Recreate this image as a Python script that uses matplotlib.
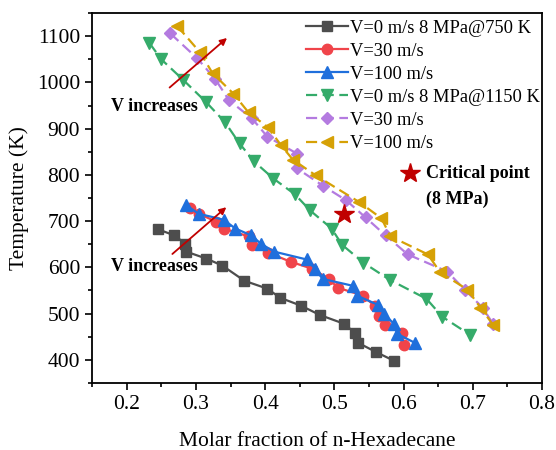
import matplotlib
matplotlib.use("Agg")
import matplotlib.pyplot as plt
from matplotlib.ticker import MultipleLocator

plt.rcParams['font.family'] = ['Liberation Serif', 'DejaVu Serif']
plt.rcParams['mathtext.fontset'] = 'stix'

# ---- data ----
x_v0_750 = [0.246, 0.269, 0.285, 0.286, 0.315, 0.338, 0.370, 0.403, 0.422, 0.452,
            0.479, 0.514, 0.530, 0.534, 0.560, 0.586]
t_v0_750 = [682, 669, 651, 634, 619, 604, 571, 554, 534, 517, 497, 478, 458, 437, 417, 398]

x_v30_750 = [0.292, 0.304, 0.329, 0.340, 0.376, 0.381, 0.404, 0.437, 0.468, 0.492,
             0.505, 0.541, 0.558, 0.564, 0.573, 0.597, 0.600]
t_v30_750 = [729, 716, 699, 684, 667, 649, 632, 612, 597, 575, 556, 539, 517, 495, 476, 458, 432]

x_v100_750 = [0.286, 0.304, 0.340, 0.357, 0.380, 0.394, 0.413, 0.460, 0.472, 0.483,
              0.527, 0.532, 0.563, 0.571, 0.586, 0.591, 0.616]
t_v100_750 = [734, 716, 703, 684, 669, 651, 634, 617, 597, 575, 560, 539, 519, 500, 478, 456, 437]

x_v0_1150 = [0.233, 0.250, 0.282, 0.315, 0.342, 0.363, 0.384, 0.412, 0.443, 0.465,
             0.496, 0.511, 0.542, 0.580, 0.633, 0.656, 0.696]
t_v0_1150 = [1085, 1050, 1005, 957, 914, 868, 829, 792, 758, 723, 684, 649, 610, 573, 532, 493, 454]

x_v30_1150 = [0.263, 0.302, 0.328, 0.348, 0.381, 0.403, 0.446, 0.446, 0.483, 0.517,
              0.545, 0.574, 0.606, 0.663, 0.688, 0.714, 0.729]
t_v30_1150 = [1106, 1052, 1007, 961, 922, 883, 846, 814, 777, 745, 708, 669, 628, 591, 552, 513, 478]

x_v100_1150 = [0.273, 0.306, 0.324, 0.354, 0.376, 0.404, 0.423, 0.440, 0.473, 0.535,
               0.568, 0.581, 0.635, 0.653, 0.692, 0.711, 0.729]
t_v100_1150 = [1122, 1065, 1020, 976, 935, 903, 864, 833, 799, 742, 706, 667, 628, 589, 552, 513, 476]

critical_x = [0.514]
critical_t = [716]

labels = ["V=0 m/s 8 MPa@750 K", "V=30 m/s", "V=100 m/s",
          "V=0 m/s 8 MPa@1150 K", "V=30 m/s", "V=100 m/s"]

fig = plt.figure(figsize=(5.56, 4.50), dpi=100)
ax = fig.add_axes([0.1655, 0.149, 0.8095, 0.822])

lw = 1.6
ms = 7
dash = (5, 2.5)
ax.plot(x_v0_750, t_v0_750, '-', color='#4d4d4d', marker='s', lw=lw, ms=ms-0.5, label=labels[0])
ax.plot(x_v30_750, t_v30_750, '-', color='#f0444a', marker='o', lw=lw, ms=ms+0.5, label=labels[1])
ax.plot(x_v100_750, t_v100_750, '-', color='#1f6fdc', marker='^', lw=lw, ms=ms+1, label=labels[2])
ax.plot(x_v0_1150, t_v0_1150, '--', color='#35ab6a', marker='v', lw=lw, ms=ms+1, label=labels[3],
        dashes=dash)
ax.plot(x_v30_1150, t_v30_1150, '--', color='#b47be0', marker='D', lw=lw, ms=ms-0.5, label=labels[4],
        dashes=dash)
ax.plot(x_v100_1150, t_v100_1150, '--', color='#d6a106', marker='<', lw=lw, ms=ms+1, label=labels[5],
        dashes=dash)

ax.plot(critical_x, critical_t, '*', color='#c00000', ms=15, zorder=5)

# legend-like critical point annotation
ax.plot([0.609], [803], '*', color='#c00000', ms=15, clip_on=False)
ax.text(0.632, 803, "Critical point", fontsize=13, fontweight='bold', va='center', ha='left')
ax.text(0.632, 748, "(8 MPa)", fontsize=13, fontweight='bold', va='center', ha='left')

# arrows
arrow_kw = dict(arrowstyle='-|>', color='#c00000', lw=1.3, mutation_scale=10)
ax.annotate('', xy=(0.348, 1100), xytext=(0.259, 985), arrowprops=arrow_kw)
ax.annotate('', xy=(0.347, 734), xytext=(0.263, 625), arrowprops=arrow_kw)
ax.text(0.1775, 947, "V increases", fontsize=13, fontweight='bold', va='center', ha='left')
ax.text(0.1775, 601, "V increases", fontsize=13, fontweight='bold', va='center', ha='left')

ax.set_xlim(0.15, 0.8)
ax.set_ylim(350, 1150)
ax.xaxis.set_minor_locator(MultipleLocator(0.05))
ax.yaxis.set_minor_locator(MultipleLocator(50))
ax.set_xticks([0.2, 0.3, 0.4, 0.5, 0.6, 0.7, 0.8])
ax.set_xticklabels(["0.2", "0.3", "0.4", "0.5", "0.6", "0.7", "0.8"])
ax.set_yticks([400, 500, 600, 700, 800, 900, 1000, 1100])
ax.tick_params(axis='both', which='major', direction='out', length=5, width=1.2, labelsize=15.5)
ax.tick_params(axis='both', which='minor', direction='out', length=3, width=1.2)
for s in ax.spines.values():
    s.set_linewidth(1.3)

ax.set_xlabel("Molar fraction of n-Hexadecane", fontsize=15.5, labelpad=13)
ax.set_ylabel("Temperature (K)", fontsize=15.5, labelpad=6)

leg = ax.legend(loc='upper right', bbox_to_anchor=(1.01, 1.0), frameon=False, fontsize=13.3,
                handlelength=2.3, handletextpad=0.1, labelspacing=0.33, borderaxespad=0.15,
                borderpad=0.2)

fig.savefig("out.png", dpi=100)
